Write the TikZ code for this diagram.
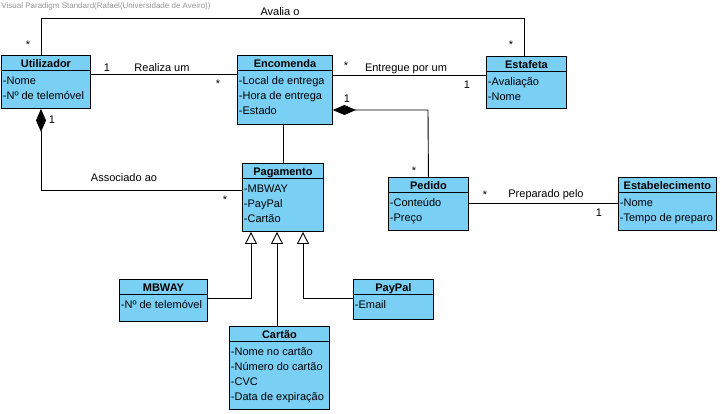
\documentclass[tikz,border=0pt]{standalone}
\usepackage{fontspec}
\setmainfont{Liberation Sans}
\usetikzlibrary{arrows.meta}
\definecolor{clsblue}{RGB}{122,207,245}
\definecolor{wmgrey}{RGB}{150,150,150}
\tikzset{
  cls/.style={draw, fill=clsblue, anchor=north west, inner sep=0pt},
  clshead/.style={anchor=base, inner sep=0pt, font=\fontsize{11}{13}\selectfont\bfseries},
  clsattr/.style={anchor=north west, inner sep=0pt, align=left, font=\fontsize{11}{15}\selectfont},
  lbl/.style={anchor=base, inner sep=0pt, font=\fontsize{11}{13}\selectfont},
  comp/.style={-{Diamond[length=23pt,width=10pt]}},
  gen/.style={-{Triangle[open,length=12pt,width=12pt]}},
}
% class box: name, corner, width, height, title, attributes
\newcommand{\umlcls}[6]{%
  \node [cls, minimum width=#3, minimum height=#4] (#1) at (#2) {};
  \draw ([yshift=-15pt]#1.north west) -- ([yshift=-15pt]#1.north east);
  \node [clshead] (#1h) at ([yshift=-12.5pt]#1.north) {#5};
  \node [clsattr] (#1a) at ([xshift=1.5pt,yshift=-21pt]#1.north west) {#6};
}
\begin{document}
\begin{tikzpicture}[x=1pt, y=-1pt, line width=0.9pt]
  \useasboundingbox (0,0) rectangle (721,413);
  \node [anchor=west, inner sep=0pt, text=wmgrey, font=\fontsize{8}{9}\selectfont] (wm) at (1,6) {Visual Paradigm Standard(Rafael(Universidade de Aveiro))};
  \umlcls{util}{1,55}{89pt}{53pt}{Utilizador}{-Nome\\-Nº de telemóvel}
  \umlcls{enc}{237,55}{95pt}{69pt}{Encomenda}{-Local de entrega\\-Hora de entrega\\-Estado}
  \umlcls{est}{486,56}{80pt}{52pt}{Estafeta}{-Avaliação\\-Nome}
  \umlcls{pag}{242,163}{81pt}{68pt}{Pagamento}{-MBWAY\\-PayPal\\-Cartão}
  \umlcls{ped}{388,177}{80pt}{53pt}{Pedido}{-Conteúdo\\-Preço}
  \umlcls{estab}{618,177}{98pt}{53pt}{Estabelecimento}{-Nome\\-Tempo de preparo}
  \umlcls{mbw}{119,279}{88pt}{42pt}{MBWAY}{-Nº de telemóvel}
  \umlcls{pp}{353,279}{80pt}{40pt}{PayPal}{-Email}
  \umlcls{cart}{229,326}{100pt}{83pt}{Cartão}{-Nome no cartão\\-Número do cartão\\-CVC\\-Data de expiração}
  % bends
  \coordinate (avA) at (41,18);
  \coordinate (avB) at (524,18);
  \coordinate (cp) at (428,110);
  \coordinate (ap) at (41,190);
  \coordinate (g1) at (251,298);
  \coordinate (g2) at (277,298);
  \coordinate (g3) at (303,298);
  % associations
  \draw (util.north -| avA) -- (avA) -- (avB) -- (est.north -| avB);
  \draw ([yshift=-19pt]util.north east) -- ([yshift=-19pt]enc.north west);
  \draw ([yshift=-20pt]enc.north east) -- ([yshift=-19pt]est.north west);
  \draw (pag.north) -- (pag.north |- enc.south);
  \draw ([yshift=-26pt]ped.north east) -- ([yshift=-26pt]estab.north west);
  \draw [comp] (ped.north) -- (cp) -- (enc.east |- cp);
  \draw [comp] ([yshift=-27pt]pag.north west) -- (ap) -- (util.south -| ap);
  % generalizations
  \draw [gen] ([yshift=-19pt]mbw.north east) -- (g1) -- (pag.south -| g1);
  \draw [gen] (cart.north -| g2) -- (pag.south -| g2);
  \draw [gen] ([yshift=-19pt]pp.north west) -- (g3) -- (pag.south -| g3);
  % labels
  \node [lbl] (avl) at (280,15) {Avalia o};
  \node [lbl] (avm1) at (28,48) {*};
  \node [lbl] (avm2) at (511,48) {*};
  \node [lbl] (rel) at (162,71) {Realiza um};
  \node [lbl] (relm1) at (107,71) {1};
  \node [lbl] (relm2) at (218,87) {*};
  \node [lbl] (ent) at (406,71) {Entregue por um};
  \node [lbl] (entm1) at (346,69) {*};
  \node [lbl] (entm2) at (467,88) {1};
  \node [lbl] (cpm1) at (347,102) {1};
  \node [lbl] (cpm2) at (414,174) {*};
  \node [lbl] (aso) at (124,181) {Associado ao};
  \node [lbl] (asom1) at (52,123) {1};
  \node [lbl] (asom2) at (225,203) {*};
  \node [lbl] (prp) at (546,197) {Preparado pelo};
  \node [lbl] (prpm1) at (485,198) {*};
  \node [lbl] (prpm2) at (599,216) {1};
\end{tikzpicture}
\end{document}
